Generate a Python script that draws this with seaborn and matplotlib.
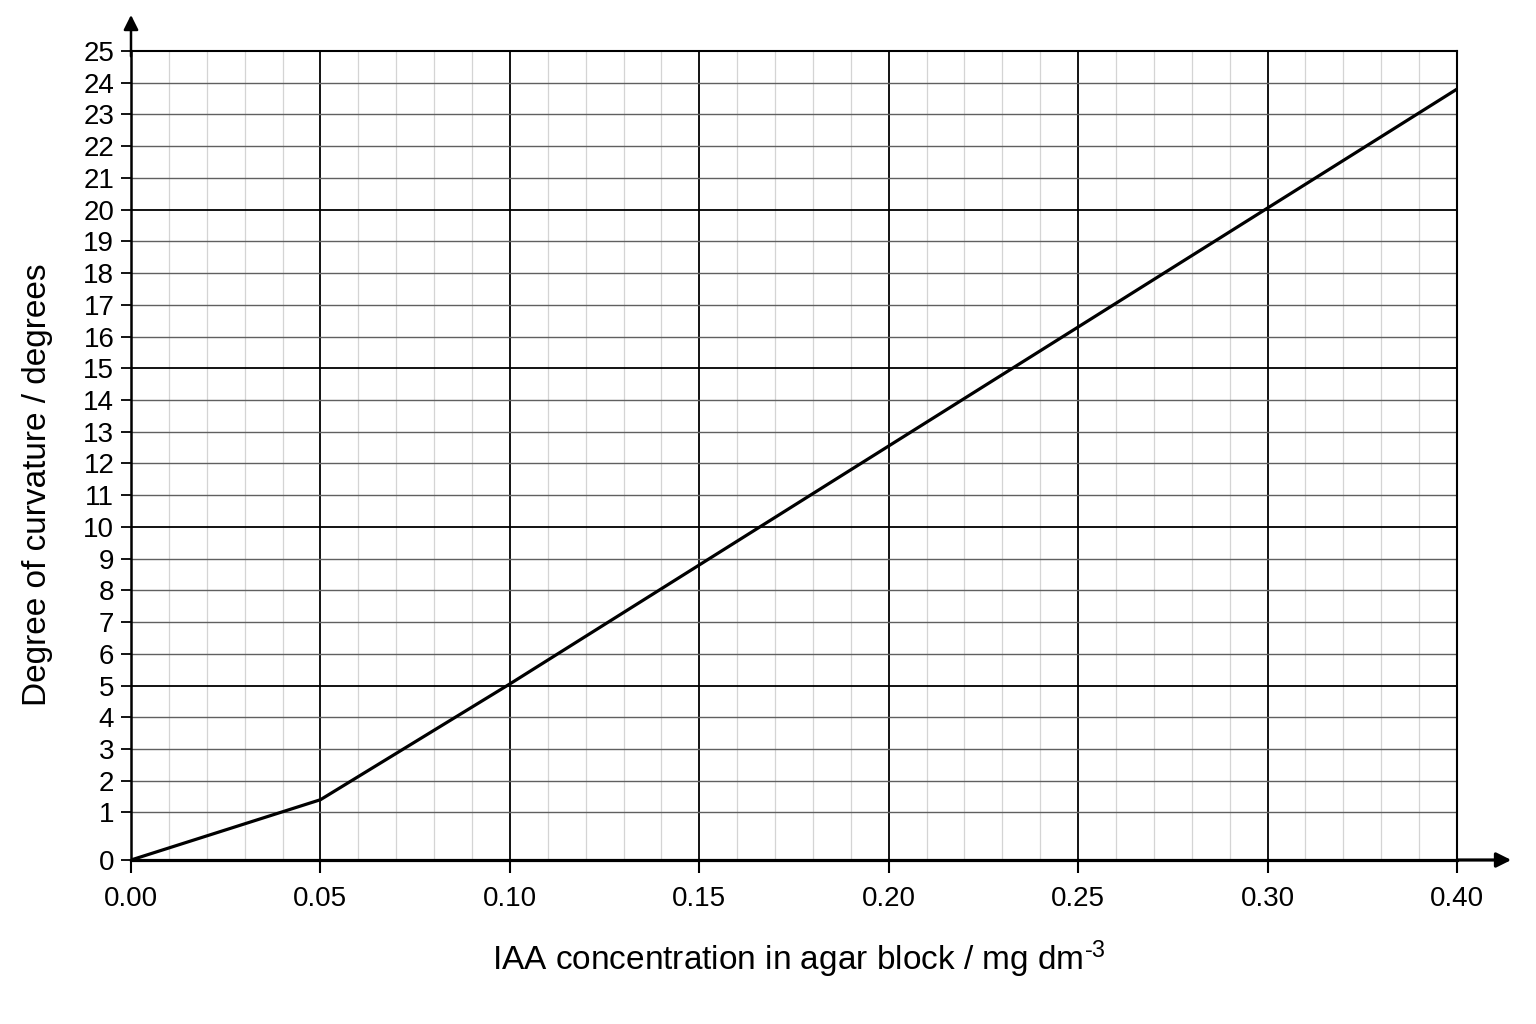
import numpy as np
import pandas as pd
import matplotlib
matplotlib.use("Agg")
import matplotlib.pyplot as plt
from matplotlib.ticker import FixedLocator, FixedFormatter
import seaborn as sns

# values
conc = [0.00, 0.05, 0.10, 0.15, 0.20, 0.25, 0.30, 0.40]
curvature = [0.0, 1.4, 5.05, 8.8, 12.55, 16.3, 20.05, 23.8]

x_ticks = [0.00, 0.05, 0.10, 0.15, 0.20, 0.25, 0.30, 0.40]
x_tick_labels = ["0.00", "0.05", "0.10", "0.15", "0.20", "0.25", "0.30", "0.40"]
x_minor = list(np.round(np.arange(0.0, 0.30, 0.01), 2)) + [0.32, 0.34, 0.36, 0.38]
y_major = [0, 5, 10, 15, 20, 25]
y_minor = [1, 2, 3, 4, 6, 7, 8, 9, 11, 12, 13, 14, 16, 17, 18, 19, 21, 22, 23, 24]

x_label = r"IAA concentration in agar block / mg dm$^{\text{-}3}$"
y_label = "Degree of curvature / degrees"

df = pd.DataFrame({"conc": conc, "curvature": curvature})

sns.set_style("white")
plt.rcParams["font.family"] = ["Liberation Sans", "DejaVu Sans"]
plt.rcParams["mathtext.fontset"] = "custom"
plt.rcParams["mathtext.rm"] = "Liberation Sans"
plt.rcParams["mathtext.it"] = "Liberation Sans"
for key in ["text.color", "axes.labelcolor", "xtick.color", "ytick.color"]:
    plt.rcParams[key] = "black"


# the printed grid squeezes 0.30-0.40 into one column and stretches 0-1 on y
def x_fwd(x):
    x = np.asarray(x, dtype=float)
    return np.where(x <= 0.30, x, 0.30 + (x - 0.30) / 2)


def x_inv(v):
    v = np.asarray(v, dtype=float)
    return np.where(v <= 0.30, v, 0.30 + (v - 0.30) * 2)


def y_fwd(y):
    y = np.asarray(y, dtype=float)
    return np.where(y <= 1, y * 1.5, y + 0.5)


def y_inv(v):
    v = np.asarray(v, dtype=float)
    return np.where(v <= 1.5, v / 1.5, v - 0.5)


fig = plt.figure(figsize=(15.36, 10.24), dpi=100)
ax = fig.add_axes([131 / 1536, 1 - 860 / 1024, 1326 / 1536, 809 / 1024])
ax.set_xscale("function", functions=(x_fwd, x_inv))
ax.set_yscale("function", functions=(y_fwd, y_inv))

sns.lineplot(data=df, x="conc", y="curvature", color="black", lw=2.3, ax=ax, zorder=5)

ax.set_xlim(0, 0.40)
ax.set_ylim(0, 25)

ax.xaxis.set_major_locator(FixedLocator(x_ticks))
ax.xaxis.set_major_formatter(FixedFormatter(x_tick_labels))
ax.xaxis.set_minor_locator(FixedLocator(x_minor))
ax.yaxis.set_major_locator(FixedLocator(y_major))
ax.yaxis.set_minor_locator(FixedLocator(y_minor))
ax.yaxis.set_major_formatter(FixedFormatter([str(v) for v in y_major]))
ax.yaxis.set_minor_formatter(FixedFormatter([str(v) for v in y_minor]))

ax.grid(which="major", axis="both", color="black", lw=1.3, zorder=2)
ax.grid(which="minor", axis="x", color="#d4d4d4", lw=0.9, zorder=1)
ax.grid(which="minor", axis="y", color="#606060", lw=1.0, zorder=1)
ax.set_axisbelow(True)

ax.tick_params(axis="x", which="major", direction="out", length=9.5, width=1.5,
               pad=9, labelsize=20, bottom=True, color="black", labelcolor="black")
ax.tick_params(axis="x", which="minor", length=0)
ax.tick_params(axis="y", which="both", direction="out", length=7, width=1.3,
               pad=5, labelsize=20, left=True, color="black", labelcolor="black")

for side in ["top", "right"]:
    ax.spines[side].set_linewidth(1.5)
    ax.spines[side].set_color("black")
ax.spines["left"].set_linewidth(1.8)
ax.spines["bottom"].set_linewidth(2.3)
ax.spines["left"].set_color("black")
ax.spines["bottom"].set_color("black")

ax.set_xlabel(x_label, fontsize=24, color="black")
ax.set_ylabel(y_label, fontsize=24, color="black")
ax.xaxis.set_label_coords(0.504, -0.097)
ax.yaxis.set_label_coords(-0.059, 0.4635)

# axis arrows
ax.annotate("", xy=(0, 1.048), xytext=(0, 0.99), xycoords="axes fraction",
            arrowprops=dict(arrowstyle="-|>", color="black", lw=1.8, mutation_scale=22))
ax.annotate("", xy=(1.043, 0), xytext=(0.999, 0), xycoords="axes fraction",
            arrowprops=dict(arrowstyle="-|>", color="black", lw=2.3, mutation_scale=22))

fig.savefig("out.png", dpi=100, facecolor="white")
